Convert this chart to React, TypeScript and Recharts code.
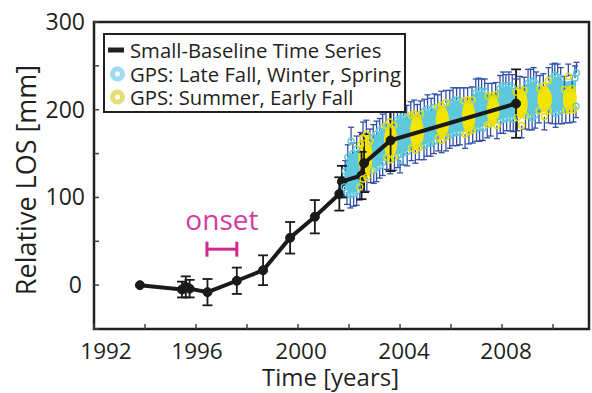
import React from 'react';
import { ComposedChart, XAxis, YAxis, Line, Area, Scatter, ReferenceArea } from 'recharts';

const FONT = '"Open Sans", "DejaVu Sans", sans-serif';
const INK = '#231f20';
const CYAN = '#5ec8dc';
const YELLOW = '#f2e600';
const BLUE = '#3050a8';
const MAGENTA = '#d12a8e';

// Small-baseline InSAR time series
const sbasTimes = [1993.8, 1995.45, 1995.6, 1995.75, 1996.45, 1997.6, 1998.63, 1999.69, 2000.66, 2001.62, 2001.72, 2002.49, 2002.59, 2003.63, 2008.55];
const sbasValues = [0, -5, -2, -4, -8, 5, 17, 54, 78, 104, 118, 125, 139, 165, 207];
const sbasErrors = [null, 9, 12, 10, 15, 15, 17, 18, 19, 19, 18, 27, 33, 35, 39];

// GPS, late fall / winter / spring, samples on the upper edge of the cloud: [year, LOS mm, error mm]
const cyanUpper: number[][] = [
  [2001.85, 130, 12], [2001.95, 146, 14], [2002.08, 164, 16], [2002.15, 150, 12], [2002.3, 155, 15],
  [2002.95, 168, 15], [2003.08, 172, 15], [2003.2, 176, 14], [2003.32, 180, 15],
  [2003.9, 188, 14], [2004.02, 190, 15], [2004.14, 193, 17], [2004.26, 191, 14],
  [2004.95, 198, 14], [2005.08, 201, 16], [2005.22, 199, 14], [2005.35, 203, 15],
  [2005.95, 207, 15], [2006.08, 209, 16], [2006.22, 211, 14], [2006.35, 210, 15],
  [2006.97, 219, 16], [2007.08, 222, 14], [2007.2, 220, 15], [2007.32, 221, 14],
  [2007.92, 224, 15], [2008.04, 227, 16], [2008.15, 226, 14], [2008.27, 228, 15], [2008.4, 226, 14],
  [2009.02, 230, 16], [2009.12, 232, 14], [2009.24, 233, 15], [2009.34, 229, 14],
  [2009.97, 236, 16], [2010.07, 239, 14], [2010.18, 237, 15], [2010.3, 234, 14],
  [2010.86, 236, 14], [2010.92, 242, 12],
];
// GPS, late fall / winter / spring, samples on the lower edge of the cloud
const cyanLower: number[][] = [
  [2001.82, 112, 12], [2001.92, 106, 14], [2002.05, 103, 15], [2002.18, 104, 14], [2002.3, 107, 16],
  [2002.97, 131, 15], [2003.08, 134, 16], [2003.2, 136, 14], [2003.32, 140, 15],
  [2003.92, 148, 14], [2004.0, 143, 15], [2004.12, 151, 14], [2004.28, 152, 16],
  [2004.94, 159, 16], [2005.05, 161, 14], [2005.2, 162, 15], [2005.33, 164, 14],
  [2005.95, 171, 15], [2006.08, 173, 14], [2006.22, 174, 15], [2006.35, 174, 14],
  [2007.0, 178, 14], [2007.12, 180, 16], [2007.25, 179, 14],
  [2007.93, 187, 14], [2008.05, 189, 16], [2008.18, 190, 14], [2008.32, 191, 15], [2008.44, 189, 14],
  [2009.05, 193, 16], [2009.18, 191, 14], [2009.3, 194, 15],
  [2009.97, 199, 15], [2010.1, 196, 16], [2010.22, 198, 14], [2010.35, 199, 15], [2010.9, 204, 13],
];

// GPS, summer / early fall, upper edge of the cloud
const yellowUpper: number[][] = [
  [2002.45, 160, 14], [2002.55, 168, 18], [2002.68, 172, 16], [2002.82, 164, 14],
  [2003.45, 182, 17], [2003.6, 186, 15], [2003.75, 182, 16],
  [2004.42, 194, 15], [2004.55, 195, 16], [2004.68, 192, 14], [2004.8, 195, 15],
  [2005.48, 203, 14], [2005.62, 205, 16], [2005.8, 208, 14],
  [2006.5, 210, 15], [2006.65, 211, 14], [2006.82, 211, 15],
  [2007.45, 215, 15], [2007.6, 216, 14], [2007.75, 217, 14],
  [2008.55, 220, 15], [2008.7, 224, 14], [2008.87, 222, 15],
  [2009.48, 224, 15], [2009.62, 227, 14], [2009.82, 233, 15],
  [2010.45, 223, 15], [2010.6, 238, 14], [2010.75, 224, 15],
];
// GPS, summer / early fall, lower edge of the cloud
const yellowLower: number[][] = [
  [2002.42, 112, 15], [2002.55, 121, 14], [2002.7, 123, 16], [2002.85, 131, 14],
  [2003.48, 146, 14], [2003.62, 143, 16], [2003.78, 146, 15],
  [2004.45, 156, 14], [2004.6, 154, 15], [2004.75, 157, 14],
  [2005.5, 168, 15], [2005.63, 165, 14], [2005.8, 169, 16],
  [2006.55, 172, 16], [2006.7, 175, 14], [2006.85, 177, 15],
  [2007.42, 183, 15], [2007.55, 184, 14], [2007.8, 182, 15],
  [2008.6, 191, 15], [2008.77, 182, 14], [2008.92, 193, 15],
  [2009.45, 199, 14], [2009.66, 192, 15], [2009.82, 199, 14],
  [2010.5, 199, 14], [2010.65, 200, 15], [2010.8, 200, 14],
];

// dense cloud of winter GPS samples: [year, low mm, high mm]
const cyanBand: number[][] = [
  [2001.82, 114, 128], [2001.9, 108, 142], [2002.05, 105, 150], [2002.25, 106, 153], [2002.45, 112, 157],
  [2002.7, 124, 164], [2002.95, 133, 170], [2003.2, 137, 175], [2003.45, 144, 183], [2003.7, 147, 186],
  [2003.95, 149, 189], [2004.2, 152, 192], [2004.45, 155, 195], [2004.7, 157, 196], [2004.95, 160, 198],
  [2005.2, 163, 200], [2005.45, 166, 203], [2005.7, 168, 205], [2005.95, 172, 207], [2006.2, 175, 210],
  [2006.45, 175, 211], [2006.7, 176, 212], [2006.95, 179, 219], [2007.2, 181, 221], [2007.45, 184, 218],
  [2007.7, 185, 218], [2007.95, 189, 225], [2008.2, 191, 227], [2008.45, 191, 225], [2008.7, 192, 224],
  [2008.95, 193, 229], [2009.2, 193, 232], [2009.45, 197, 227], [2009.7, 198, 228], [2009.95, 198, 235],
  [2010.2, 198, 237], [2010.45, 199, 232], [2010.7, 199, 233], [2010.9, 202, 234],
];

// dense clouds of summer GPS samples, one per year: [year, low mm, high mm]
const yellowBlobs: number[][][] = [
  [[2002.37, 140, 152], [2002.42, 132, 160], [2002.505, 125, 167], [2002.64, 122, 170], [2002.775, 125, 167], [2002.86, 132, 160], [2002.91, 140, 152]],
  [[2003.37, 159, 169], [2003.42, 152, 176], [2003.5, 147, 181], [2003.63, 144, 184], [2003.76, 147, 181], [2003.84, 152, 176], [2003.89, 159, 169]],
  [[2004.39, 169, 179], [2004.44, 163, 185], [2004.525, 157, 191], [2004.66, 155, 193], [2004.795, 157, 191], [2004.88, 163, 185], [2004.93, 169, 179]],
  [[2005.4, 181, 191], [2005.45, 175, 197], [2005.53, 170, 202], [2005.66, 168, 204], [2005.79, 170, 202], [2005.87, 175, 197], [2005.92, 181, 191]],
  [[2006.43, 187, 197], [2006.48, 181, 203], [2006.56, 176, 208], [2006.69, 174, 210], [2006.82, 176, 208], [2006.9, 181, 203], [2006.95, 187, 197]],
  [[2007.4, 195, 203], [2007.45, 189, 209], [2007.525, 184, 214], [2007.65, 182, 216], [2007.775, 184, 214], [2007.85, 189, 209], [2007.9, 195, 203]],
  [[2008.48, 203, 211], [2008.53, 197, 217], [2008.61, 192, 222], [2008.74, 190, 224], [2008.87, 192, 222], [2008.95, 197, 217], [2009.0, 203, 211]],
  [[2009.39, 208, 216], [2009.45, 203, 221], [2009.53, 199, 225], [2009.67, 197, 227], [2009.81, 199, 225], [2009.89, 203, 221], [2009.95, 208, 216]],
  [[2010.39, 208, 216], [2010.44, 203, 221], [2010.525, 199, 225], [2010.66, 197, 227], [2010.795, 199, 225], [2010.88, 203, 221], [2010.93, 208, 216]],
];

// onset interval: start year, end year, level
const onsetStart = 1996.43;
const onsetEnd = 1997.6;
const onsetLevel = 41;

const xTicks = [1992, 1994, 1996, 1998, 2000, 2002, 2004, 2006, 2008, 2010];
const yTicks = [-50, 0, 50, 100, 150, 200, 250, 300];
const legendLabels = ['Small-Baseline Time Series', 'GPS: Late Fall, Winter, Spring', 'GPS: Summer, Early Fall'];

type Seg = { t: number; v: number | null; cap?: boolean };
const toPts = (rows: number[][]) => rows.map(([t, v, e]) => ({ t, v, e }));
const cyanPts = [...toPts(cyanUpper), ...toPts(cyanLower)];
const yellowPts = [...toPts(yellowUpper), ...toPts(yellowLower)];
// error bars as broken line segments; the half hidden inside the dense cloud is left out
const upperBars = (rows: number[][]): Seg[] =>
  rows.flatMap(([t, v, e]) => [{ t, v }, { t, v: v + e, cap: true }, { t, v: null }]);
const lowerBars = (rows: number[][]): Seg[] =>
  rows.flatMap(([t, v, e]) => [{ t, v: v - e, cap: true }, { t, v }, { t, v: null }]);
const gpsBarData: Seg[] = [
  ...upperBars(cyanUpper), ...upperBars(yellowUpper), ...lowerBars(cyanLower), ...lowerBars(yellowLower),
];
const sbasData = sbasTimes.map((t, i) => ({ t, v: sbasValues[i] }));
const sbasBarData: Seg[] = sbasTimes.flatMap((t, i) => {
  const e = sbasErrors[i];
  if (e == null) return [];
  return [{ t, v: sbasValues[i] - e, cap: true }, { t, v: sbasValues[i] + e, cap: true }, { t, v: null }];
});
const cyanBandData = cyanBand.map(([t, lo, hi]) => ({ t, r: [lo, hi] }));
const yellowBlobData = yellowBlobs.map((b) => b.map(([t, lo, hi]) => ({ t, r: [lo, hi] })));
const onsetBarData: Seg[] = [{ t: onsetStart, v: onsetLevel, cap: true }, { t: onsetEnd, v: onsetLevel, cap: true }];
const onsetLabelData = [{ t: (onsetStart + onsetEnd) / 2, v: onsetLevel }];

const XTick = (props: any) => {
  const { x, y, payload } = props;
  const v = payload.value;
  if (v % 4 !== 0) return <g />;
  const shift: Record<number, number> = { 1992: 12, 1996: 1, 2000: 3, 2004: 4, 2008: 4 };
  return (
    <text x={x + (shift[v] ?? 0)} y={y} dy={16.5} textAnchor="middle" fontFamily={FONT} fontSize={22.5} fill={INK}>
      {v}
    </text>
  );
};

const YTick = (props: any) => {
  const { x, y, payload } = props;
  const v = payload.value;
  if (v < 0 || v % 100 !== 0) return <g />;
  return (
    <text x={x + (v === 0 ? -3 : 0)} y={y} dy={8} textAnchor="end" fontFamily={FONT} fontSize={23} fill={INK}>
      {v}
    </text>
  );
};

const XTitle = (props: any) => {
  const vb = props.viewBox ?? { x: 94, y: 329, width: 495, height: 64 };
  return (
    <text x={vb.x + vb.width / 2 - 11} y={vb.y + 57} textAnchor="middle" fontFamily={FONT} fontSize={24} fill={INK}>
      Time [years]
    </text>
  );
};

const YTitle = (props: any) => {
  const vb = props.viewBox ?? { x: 0, y: 22, width: 94, height: 307 };
  const cx = 36;
  const cy = vb.y + vb.height / 2 + 4.5;
  return (
    <text transform={`rotate(-90 ${cx} ${cy})`} x={cx} y={cy} textAnchor="middle" fontFamily={FONT} fontSize={27} fill={INK}>
      Relative LOS [mm]
    </text>
  );
};

const capDot = (half: number, color: string, sw: number, vertical = false) => (p: any) => {
  if (p.cx == null || p.cy == null || p.value == null || !p.payload?.cap) return <g key={`c${p.index}`} />;
  return vertical ? (
    <line key={`c${p.index}`} x1={p.cx} x2={p.cx} y1={p.cy - half} y2={p.cy + half} stroke={color} strokeWidth={sw} />
  ) : (
    <line key={`c${p.index}`} x1={p.cx - half} x2={p.cx + half} y1={p.cy} y2={p.cy} stroke={color} strokeWidth={sw} />
  );
};

const ring = (color: string) => (p: any) => (
  <circle cx={p.cx} cy={p.cy} r={3} fill="none" stroke={color} strokeWidth={1.4} />
);
const OnsetShape = (p: any) => (
  <text x={p.cx} y={p.cy - 19} textAnchor="middle" fontFamily={FONT} fontSize={28} fill="#d63b9f">
    onset
  </text>
);

const Legend = () => {
  const rowTops = [15, 38.5, 62];
  return (
    <div
      style={{
        position: 'absolute', left: 103, top: 33, width: 303, height: 80, boxSizing: 'border-box',
        border: `2px solid ${INK}`, background: '#fff', fontFamily: FONT, fontSize: 20.3, color: INK,
      }}
    >
      {legendLabels.map((label, i) => (
        <div key={label} style={{ position: 'absolute', left: 0, top: rowTops[i] - 11, height: 22, width: 299 }}>
          <svg width={26} height={22} style={{ position: 'absolute', left: 0, top: 0 }}>
            {i === 0 ? (
              <rect x={3} y={8.5} width={16} height={5} fill={INK} />
            ) : (
              <circle cx={12.5} cy={11} r={5} fill="none" stroke={i === 1 ? '#9edcf2' : '#e5de74'} strokeWidth={5} />
            )}
          </svg>
          <span style={{ position: 'absolute', left: 25, top: 0, lineHeight: '22px', whiteSpace: 'nowrap' }}>{label}</span>
        </div>
      ))}
    </div>
  );
};

export default function App() {
  return (
    <div style={{ position: 'absolute', left: 0, top: 0, width: 592, height: 393, background: '#fff' }}>
      <ComposedChart width={592} height={393} margin={{ top: 22, right: 3, bottom: 0, left: 0 }}>
        <XAxis
          type="number"
          dataKey="t"
          domain={[1992, 2011.41]}
          ticks={xTicks}
          tick={<XTick />}
          tickSize={-5}
          tickMargin={18}
          tickLine={{ stroke: '#444', strokeWidth: 1.5 }}
          axisLine={false}
          height={64}
          interval={0}
          label={<XTitle />}
          allowDataOverflow
        />
        <YAxis
          type="number"
          dataKey="v"
          domain={[-50, 300]}
          ticks={yTicks}
          tick={<YTick />}
          tickSize={-5}
          tickMargin={14}
          tickLine={{ stroke: '#444', strokeWidth: 1.5 }}
          axisLine={false}
          width={94}
          interval={0}
          label={<YTitle />}
          allowDataOverflow
        />
        <Area
          name="cyanCloud"
          data={cyanBandData}
          dataKey="r"
          type="monotone"
          stroke="none"
          fill={CYAN}
          fillOpacity={1}
          dot={false}
          activeDot={false}
          isAnimationActive={false}
        />
        {yellowBlobData.map((d, i) => (
          <Area
            key={`yb${i}`}
            name={`yellowCloud${i}`}
            data={d}
            dataKey="r"
            type="monotone"
            stroke="none"
            fill={YELLOW}
            fillOpacity={1}
            dot={false}
            activeDot={false}
            isAnimationActive={false}
          />
        ))}
        <Line
          name="gpsErrorBars"
          data={gpsBarData}
          dataKey="v"
          stroke={BLUE}
          strokeWidth={1.3}
          dot={capDot(3, BLUE, 1.3)}
          activeDot={false}
          connectNulls={false}
          isAnimationActive={false}
        />
        <Line
          name="sbasErrorBars"
          data={sbasBarData}
          dataKey="v"
          stroke="#1a1a1a"
          strokeWidth={1.8}
          dot={capDot(5, '#1a1a1a', 1.8)}
          activeDot={false}
          connectNulls={false}
          isAnimationActive={false}
        />
        <Line
          name="sbas"
          data={sbasData}
          dataKey="v"
          stroke="#1a1a1a"
          strokeWidth={4}
          dot={{ r: 4.5, fill: '#1a1a1a', stroke: '#1a1a1a', strokeWidth: 1 }}
          activeDot={false}
          isAnimationActive={false}
        />
        <Line
          name="onsetBar"
          data={onsetBarData}
          dataKey="v"
          stroke={MAGENTA}
          strokeWidth={3}
          dot={capDot(7.5, MAGENTA, 3, true)}
          activeDot={false}
          isAnimationActive={false}
        />
        <Scatter name="gpsCyan" data={cyanPts} shape={ring(CYAN)} isAnimationActive={false} />
        <Scatter name="gpsYellow" data={yellowPts} shape={ring('#e8dc00')} isAnimationActive={false} />
        <Scatter name="onset" data={onsetLabelData} shape={OnsetShape} isAnimationActive={false} />
        <ReferenceArea
          x1={1992}
          x2={2011.41}
          y1={-50}
          y2={300}
          fill="none"
          fillOpacity={0}
          stroke={INK}
          strokeWidth={2.5}
          ifOverflow="visible"
        />
      </ComposedChart>
      <Legend />
    </div>
  );
}
